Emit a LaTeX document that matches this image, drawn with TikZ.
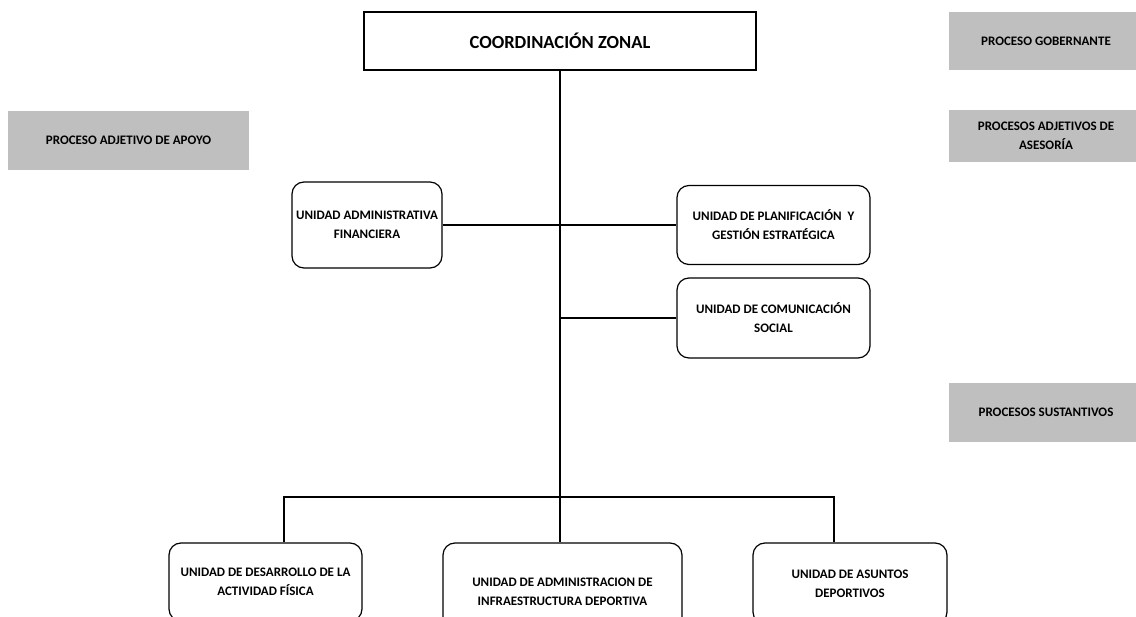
\documentclass[tikz,border=0pt]{standalone}
\usepackage{fontspec}
\setmainfont{Carlito}
\definecolor{procgray}{RGB}{191,191,191}
\tikzset{
  unidad/.style={draw, rounded corners=12pt, align=center, inner sep=0pt,
    font=\bfseries\fontsize{13}{19}\selectfont},
  proceso/.style={fill=procgray, align=center, inner sep=0pt,
    font=\bfseries\fontsize{13}{19}\selectfont},
}

\begin{document}
\begin{tikzpicture}[x=1pt, y=-1pt, line width=1.2pt]
\useasboundingbox (0,0) rectangle (1136,617);
\clip (0,0) rectangle (1136,617);
% cabecera
\node[draw, minimum width=392, minimum height=58, font=\bfseries\fontsize{18.5}{22}\selectfont] (zonal) at (560,41) {COORDINACIÓN ZONAL};
% procesos
\node[proceso, minimum width=194, minimum height=58] (gob) at (1046,41) {PROCESO GOBERNANTE};
\node[proceso, minimum width=194, minimum height=52] (ases) at (1046,136) {PROCESOS ADJETIVOS DE\\ASESORÍA};
\node[proceso, minimum width=194, minimum height=59] (sust) at (1046,412.5) {PROCESOS SUSTANTIVOS};
\node[proceso, minimum width=241, minimum height=59] (apoyo) at (128.5,140.5) {PROCESO ADJETIVO DE APOYO};
% unidades
\node[unidad, minimum width=150, minimum height=86] (fin) at (367,225) {UNIDAD ADMINISTRATIVA\\FINANCIERA};
\node[unidad, minimum width=193, minimum height=79] (plan) at (773.5,225) {UNIDAD DE PLANIFICACIÓN \ Y\\GESTIÓN ESTRATÉGICA};
\node[unidad, minimum width=193, minimum height=80] (com) at (773.5,318) {UNIDAD DE COMUNICACIÓN\\SOCIAL};
\node[unidad, minimum width=193, minimum height=78] (des) at (265.5,582) {UNIDAD DE DESARROLLO DE LA\\ACTIVIDAD FÍSICA};
\node[unidad, minimum width=239, minimum height=97] (adm) at (562.5,591.5) {UNIDAD DE ADMINISTRACION DE\\INFRAESTRUCTURA DEPORTIVA};
\node[unidad, minimum width=194, minimum height=81] (asu) at (850,583.5) {UNIDAD DE ASUNTOS\\DEPORTIVOS};
% conectores
\coordinate (bus) at (560,497);
\coordinate (busL) at (284,497);
\coordinate (busR) at (834,497);
\draw (zonal.south) -- (bus);
\draw (fin.east) -- (fin.east -| plan.west);
\draw (zonal.south |- com.west) -- (com.west);
\draw (busL |- des.north) -- (busL) -- (busR) -- (busR |- asu.north);
\draw (bus) -- (bus |- adm.north);
\end{tikzpicture}
\end{document}
